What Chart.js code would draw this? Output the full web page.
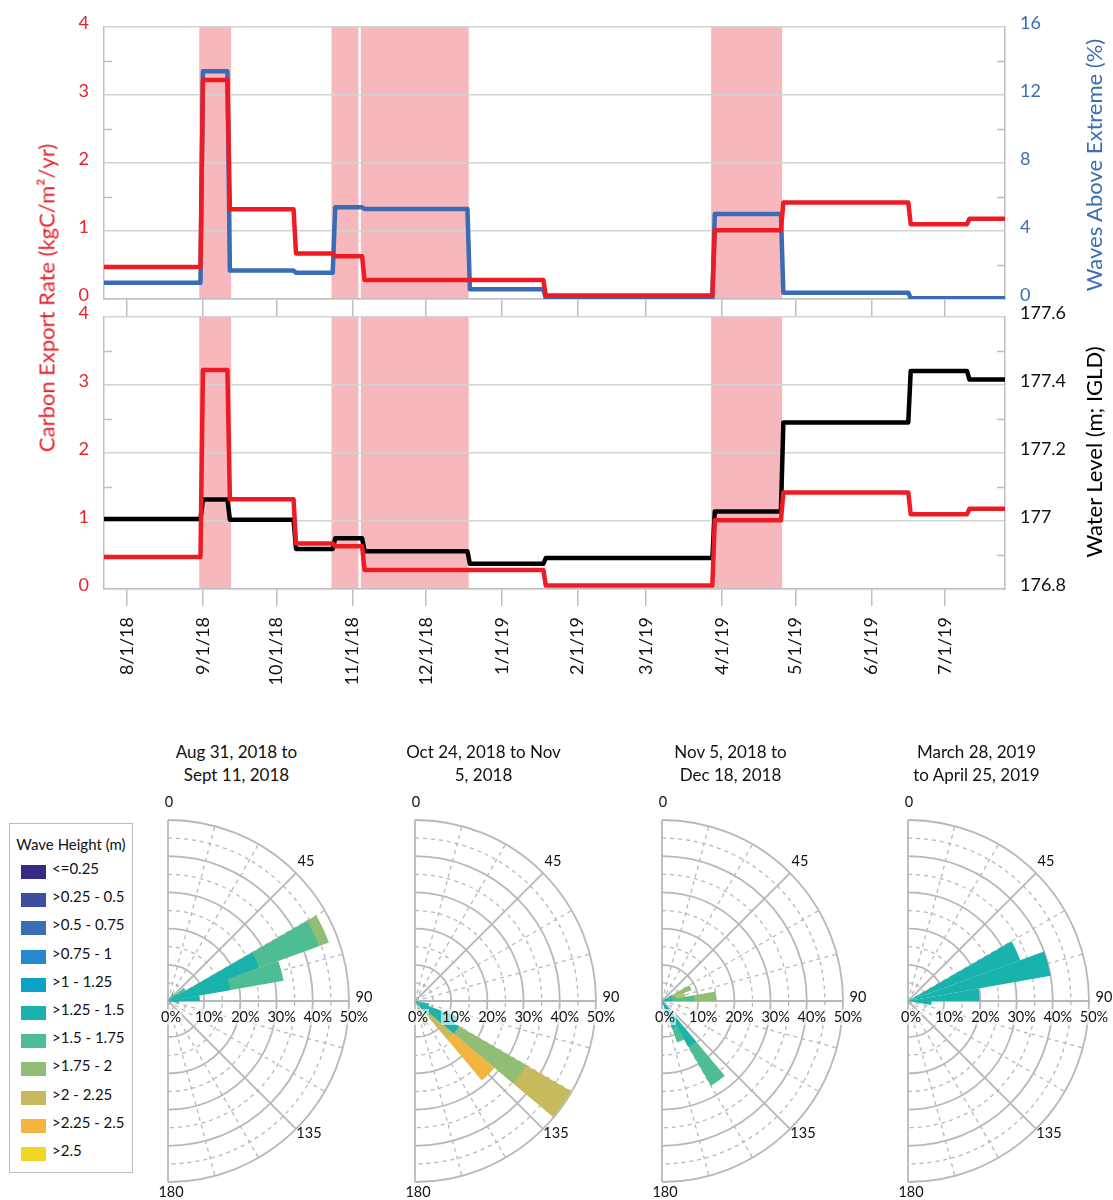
<!DOCTYPE html>
<html>
<head>
<meta charset="utf-8">
<title>Carbon export, waves and water level</title>
<script src="https://cdn.jsdelivr.net/npm/chart.js@4.4.1/dist/chart.umd.min.js"></script>
<style>
  html, body { margin: 0; padding: 0; background: #fff; }
  body { width: 1113px; height: 1200px; position: relative; overflow: hidden;
         font-family: Lato, 'Open Sans', sans-serif; color: #000; }
  canvas { position: absolute; }
  .vtitle { position: absolute; white-space: nowrap; font-size: 22px;
            transform: translate(-50%, -50%) rotate(-90deg); }
  .rose-title { position: absolute; width: 240px; text-align: center; font-size: 17px;
                line-height: 22.5px; color: #111; transform: translateX(-50%); }
  #legend { position: absolute; left: 9px; top: 823px; width: 124px; height: 350px;
            box-sizing: border-box; border: 1.5px solid #BDBDBD; background: #fff; }
  #legend .ttl { position: absolute; left: 0; width: 100%; top: 11px; text-align: center;
                 font-size: 15px; color: #111; }
  #legend .sw { position: absolute; left: 11px; width: 25px; height: 14px; }
  #legend .lb { position: absolute; left: 42px; font-size: 15px; color: #111; line-height: 18px; }
</style>
</head>
<body>
<div id="legend"><div class="ttl">Wave Height (m)</div></div>
<canvas id="topChart" width="1113" height="318" style="left:0;top:0"></canvas>
<canvas id="bottomChart" width="1113" height="420" style="left:0;top:300px"></canvas>
<div class="vtitle" style="left:46px;top:298px;color:#E8212A">Carbon Export Rate (kgC/m²/yr)</div>
<div class="vtitle" style="left:1093px;top:165px;color:#3D6DB5">Waves Above Extreme (%)</div>
<div class="vtitle" style="left:1093px;top:452px;color:#000">Water Level (m; IGLD)</div>
<div id="roses"></div>

<script>
// ---------- time series (step changes between sampling periods) ----------
// Day on which each step change happens
const changeDays = ['2018-08-31', '2018-09-11', '2018-10-08', '2018-10-24', '2018-11-05',
                    '2018-12-18', '2019-01-18', '2019-03-28', '2019-04-25', '2019-06-16', '2019-07-10'];
// Value held during each period (one more entry than changeDays)
const carbonExport      = [0.47, 3.22, 1.32, 0.67, 0.63, 0.28, 0.28, 0.05, 1.01, 1.42, 1.10, 1.18];
const wavesAboveExtreme = [0.95, 13.4, 1.67, 1.55, 5.39, 5.30, 0.57, 0.04, 5.00, 0.37, 0.04, 0.04];
const waterLevel        = [177.006, 177.063, 177.004, 176.918, 176.949, 176.911,
                           176.874, 176.891, 177.028, 177.290, 177.441, 177.416];
// High-wave periods (first and last day), shaded
const highWavePeriods = [['2018-08-31', '2018-09-12'], ['2018-10-24', '2018-11-03'],
                         ['2018-11-05', '2018-12-18'], ['2019-03-28', '2019-04-25']];
// Month ticks
const monthTickDates  = ['2018-08-01', '2018-09-01', '2018-10-01', '2018-11-01', '2018-12-01', '2019-01-01',
                         '2019-02-01', '2019-03-01', '2019-04-01', '2019-05-01', '2019-06-01', '2019-07-01'];
const monthTickLabels = ['8/1/18', '9/1/18', '10/1/18', '11/1/18', '12/1/18', '1/1/19',
                         '2/1/19', '3/1/19', '4/1/19', '5/1/19', '6/1/19', '7/1/19'];
const waterLevelTicks = [176.8, 177, 177.2, 177.4, 177.6];

// ---------- wave roses ----------
const waveClasses = ['<=0.25', '>0.25 - 0.5', '>0.5 - 0.75', '>0.75 - 1', '>1 - 1.25', '>1.25 - 1.5',
                     '>1.5 - 1.75', '>1.75 - 2', '>2 - 2.25', '>2.25 - 2.5', '>2.5'];
const classColors = ['#352A87', '#3D4EA2', '#3A6DB7', '#2688CF', '#0CA2C8', '#1AB2AD',
                     '#4EBD93', '#91BE74', '#C7BA5D', '#F4B540', '#F4D624'];
const directionBins = [0, 10, 20, 30, 40, 50, 60, 70, 80, 90, 100, 110, 120, 130, 140, 150, 160, 170];
const roseTitles = [['Aug 31, 2018 to', 'Sept 11, 2018'], ['Oct 24, 2018 to Nov', '5, 2018'],
                    ['Nov 5, 2018 to', 'Dec 18, 2018'], ['March 28, 2019', 'to April 25, 2019']];
// Percent of waves per direction bin (start angle) and height class
const roseAugSep = {
  30: [0, 0, 0, 0, 2.5, 0, 0, 0, 0, 0, 0],
  50: [0, 0, 0, 0, 0, 3.0, 2.7, 0, 0, 0, 0],
  60: [0, 0, 0, 0, 0, 26.8, 17.6, 2.9, 0, 0, 0],
  70: [0, 0, 0, 0, 0, 17.5, 14.9, 0, 0, 0, 0],
  80: [0, 0, 0, 0, 0, 8.8, 0, 0, 0, 0, 0],
  90: [0, 0, 0, 0, 0, 3.0, 0, 0, 0, 0, 0]
};
const roseOctNov = {
  100: [0, 0, 0, 0, 0, 4.0, 0, 0, 0, 0, 0],
  110: [0, 0, 0, 0, 0, 12.5, 0, 0, 0, 0, 0],
  120: [0, 0, 0, 0, 0, 14.0, 0, 21.5, 14.3, 0, 0],
  130: [0, 0, 0, 0, 0, 5.5, 0, 0, 8.3, 14.9, 0],
  150: [0, 0, 0, 0, 0, 0, 0, 7.3, 0, 0, 0]
};
const roseNovDec = {
  60:  [0, 0, 0, 0, 0, 3.0, 0, 5.7, 0, 0, 0],
  70:  [0, 0, 0, 0, 0, 2.0, 2.0, 0, 2.5, 0, 0],
  80:  [0, 0, 0, 0, 0, 3.0, 5.8, 6.2, 0, 0, 0],
  140: [0, 0, 0, 0, 3.0, 11.7, 12.3, 0, 0, 0, 0],
  150: [0, 0, 0, 0, 0, 8.0, 4.2, 0, 0, 0, 0]
};
const roseMarApr = {
  60: [0, 0, 0, 0, 0, 33.0, 0, 0, 0, 0, 0],
  70: [0, 0, 0, 0, 0, 40.0, 0, 0, 0, 0, 0],
  80: [0, 0, 0, 0, 0, 19.8, 0, 0, 0, 0, 0],
  90: [0, 0, 0, 0, 0, 6.5, 0, 0, 0, 0, 0]
};
const roseTables = [roseAugSep, roseOctNov, roseNovDec, roseMarApr];

// ---------- helpers ----------
const BASE = Date.UTC(2018, 7, 1);
function dayNum(s) {
  const [y, m, d] = s.split('-').map(Number);
  return (Date.UTC(y, m - 1, d) - BASE) / 86400000;
}
const X_MIN = dayNum('2018-07-22') + 0.6;
const X_MAX = dayNum('2019-07-25') + 0.5;

function stepPoints(values) {
  const pts = [{ x: X_MIN, y: values[0] }];
  changeDays.forEach((d, i) => {
    const n = dayNum(d);
    pts.push({ x: n, y: values[i] }, { x: n + 1, y: values[i + 1] });
  });
  pts.push({ x: X_MAX, y: values[values.length - 1] });
  return pts;
}

Chart.defaults.font.family = "Lato, 'Open Sans', sans-serif";
Chart.defaults.color = '#000';

const RED = '#ED1C24', BLUE = '#3A6BB5';
const GRID = '#D3D3D3', AXIS = '#BFBFBF';
const tickFont = { size: 18 };

const periodShading = {
  id: 'periodShading',
  beforeDraw(chart) {
    const { ctx, chartArea: a, scales: { x } } = chart;
    ctx.save();
    ctx.fillStyle = '#F6B8BC';
    highWavePeriods.forEach(([s, e]) => {
      const x0 = Math.max(a.left, x.getPixelForValue(dayNum(s) - 0.5));
      const x1 = Math.min(a.right, x.getPixelForValue(dayNum(e) + 0.5));
      ctx.fillRect(x0, a.top, x1 - x0, a.bottom - a.top);
    });
    ctx.restore();
  }
};

const minorTicks = {
  id: 'minorTicks',
  beforeDatasetsDraw(chart) {
    const { ctx, chartArea: a } = chart;
    ctx.save();
    ctx.strokeStyle = AXIS;
    ctx.lineWidth = 1.5;
    Object.values(chart.scales).forEach(s => {
      if (s.axis !== 'y') return;
      const step = s.options.ticks.stepSize;
      for (let k = 0; s.min + (k + 0.5) * step < s.max; k++) {
        const y = Math.round(s.getPixelForValue(s.min + (k + 0.5) * step)) + 0.5;
        const x0 = s.position === 'left' ? a.left : a.right - 8;
        ctx.beginPath();
        ctx.moveTo(x0, y);
        ctx.lineTo(x0 + 8, y);
        ctx.stroke();
      }
    });
    ctx.restore();
  }
};

function xAxis(showLabels, height) {
  return {
    type: 'linear', position: 'bottom', min: X_MIN, max: X_MAX, bounds: 'data',
    afterBuildTicks: s => { s.ticks = monthTickDates.map(d => ({ value: dayNum(d) })); },
    afterFit: s => { s.height = height; },
    grid: { drawOnChartArea: false, drawTicks: true, tickLength: 17, color: AXIS, lineWidth: 1.5 },
    border: { color: AXIS, width: 1.5 },
    ticks: {
      display: showLabels, autoSkip: false, maxRotation: 90, minRotation: 90, padding: 11,
      color: '#111', font: tickFont, callback: (v, i) => monthTickLabels[i]
    }
  };
}

// Label gap comes from an invisible tick mark, so the axis does not reserve extra room above/below
function yAxis(pos, min, max, step, color, width, opts = {}) {
  return Object.assign({
    position: pos, min, max,
    afterFit: s => { s.width = width; },
    ticks: { stepSize: step, color, font: tickFont, padding: 0, labelOffset: -4 },
    grid: pos === 'left'
      ? { color: GRID, lineWidth: 1.5, drawTicks: true, tickLength: 15, tickColor: 'rgba(0,0,0,0)' }
      : { drawOnChartArea: false, drawTicks: true, tickLength: 15, tickColor: 'rgba(0,0,0,0)' },
    border: { color: AXIS, width: 1.5 }
  }, opts);
}

const lineStyle = { pointRadius: 0, borderWidth: 4.5, tension: 0, borderJoinStyle: 'round', borderCapStyle: 'round' };
const commonOpts = {
  responsive: false, animation: false, events: [], devicePixelRatio: 1,
  plugins: { legend: { display: false }, tooltip: { enabled: false } }
};

new Chart(document.getElementById('topChart'), {
  type: 'line',
  data: {
    datasets: [
      Object.assign({ label: 'Carbon Export Rate', data: stepPoints(carbonExport), yAxisID: 'y', borderColor: RED }, lineStyle),
      Object.assign({ label: 'Waves Above Extreme', data: stepPoints(wavesAboveExtreme), yAxisID: 'y2', borderColor: BLUE }, lineStyle)
    ]
  },
  options: Object.assign({}, commonOpts, {
    layout: { padding: { top: 27, left: 0, right: 0, bottom: 0 } },
    scales: {
      x: xAxis(false, 19),
      y: yAxis('left', 0, 4, 1, '#E8212A', 104),
      y2: yAxis('right', 0, 16, 4, '#3D6DB5', 108)
    }
  }),
  plugins: [periodShading, minorTicks]
});

new Chart(document.getElementById('bottomChart'), {
  type: 'line',
  data: {
    datasets: [
      Object.assign({ label: 'Carbon Export Rate', data: stepPoints(carbonExport), yAxisID: 'y', borderColor: RED }, lineStyle),
      Object.assign({ label: 'Water Level', data: stepPoints(waterLevel), yAxisID: 'y2', borderColor: '#000' }, lineStyle)
    ]
  },
  options: Object.assign({}, commonOpts, {
    layout: { padding: { top: 17, left: 0, right: 0, bottom: 0 } },
    scales: {
      x: xAxis(true, 131),
      y: yAxis('left', 0, 4, 1, '#E8212A', 104),
      y2: yAxis('right', 176.8, 177.6, 0.2, '#111', 108)
    }
  }),
  plugins: [periodShading, minorTicks]
});
// water level tick labels without trailing zeros
Chart.getChart('bottomChart').options.scales.y2.ticks.callback = v => {
  const t = waterLevelTicks.find(w => Math.abs(w - v) < 1e-6);
  return t === undefined ? '' : String(t);
};
Chart.getChart('bottomChart').update();

// ---------- legend ----------
const legend = document.getElementById('legend');
waveClasses.forEach((name, i) => {
  const sw = document.createElement('div');
  sw.className = 'sw';
  sw.style.top = (41 + 28.2 * i) + 'px';
  sw.style.background = classColors[i];
  legend.appendChild(sw);
  const lb = document.createElement('div');
  lb.className = 'lb';
  lb.style.top = (35 + 28.2 * i) + 'px';
  lb.textContent = name;
  legend.appendChild(lb);
});

// ---------- wave roses ----------
const roseGrid = {
  id: 'roseGrid',
  beforeDatasetsDraw(chart) {
    const s = chart.scales.r, ctx = chart.ctx, cx = s.xCenter, cy = s.yCenter;
    const R = s.getDistanceFromCenterForValue(50);
    ctx.save();
    ctx.strokeStyle = '#B8B8B8';
    for (let v = 5; v <= 50; v += 5) {
      const major = v % 10 === 0;
      ctx.lineWidth = major ? 1.8 : 1.3;
      ctx.setLineDash(major ? [] : [4, 4]);
      ctx.beginPath();
      ctx.arc(cx, cy, s.getDistanceFromCenterForValue(v), -Math.PI / 2, Math.PI / 2);
      ctx.stroke();
    }
    for (let a = 0; a <= 180; a += 15) {
      const major = a % 45 === 0;
      ctx.lineWidth = major ? 1.8 : 1.3;
      ctx.setLineDash(major ? [] : [4, 4]);
      const t = (a - 90) * Math.PI / 180;
      ctx.beginPath();
      ctx.moveTo(cx, cy);
      ctx.lineTo(cx + R * Math.cos(t), cy + R * Math.sin(t));
      ctx.stroke();
    }
    ctx.restore();
  },
  afterDatasetsDraw(chart) {
    const s = chart.scales.r, ctx = chart.ctx, cx = s.xCenter, cy = s.yCenter;
    const R = s.getDistanceFromCenterForValue(50);
    ctx.save();
    ctx.font = "14.5px Lato, 'Open Sans', sans-serif";
    ctx.textAlign = 'center';
    ctx.textBaseline = 'middle';
    // direction labels
    const dirs = { 0: [1, -R - 18], 45: [R * 0.707 + 10, -R * 0.707 - 12], 90: [R + 15, -4],
                   135: [R * 0.707 + 13, R * 0.707 + 4], 180: [3, R + 10] };
    Object.keys(dirs).forEach(a => {
      ctx.fillStyle = '#111';
      ctx.fillText(String(a), cx + dirs[a][0], cy + dirs[a][1]);
    });
    // radial percentage labels with a light backdrop
    for (let v = 0; v <= 50; v += 10) {
      const txt = v + '%';
      const x = cx + s.getDistanceFromCenterForValue(v) + (v === 0 ? 3 : 5);
      const y = cy + 16;
      const w = ctx.measureText(txt).width;
      ctx.fillStyle = 'rgba(255,255,255,0.6)';
      ctx.fillRect(x - w / 2 - 1, y - 8, w + 2, 16);
      ctx.fillStyle = '#111';
      ctx.fillText(txt, x, y);
    }
    ctx.restore();
  }
};

const roseCentersX = [168, 415, 662, 908];
const ROSE_CY = 1001, HALF = 221;
const roses = document.getElementById('roses');
roseTables.forEach((table, k) => {
  const cx = roseCentersX[k];
  const title = document.createElement('div');
  title.className = 'rose-title';
  title.style.left = (cx + 68.5) + 'px';
  title.style.top = '741px';
  roseTitles[k].forEach((line, j) => {
    if (j) title.appendChild(document.createElement('br'));
    title.appendChild(document.createTextNode(line));
  });
  roses.appendChild(title);

  const cv = document.createElement('canvas');
  cv.width = 2 * HALF;
  cv.height = 2 * HALF;
  cv.style.left = (cx - HALF) + 'px';
  cv.style.top = (ROSE_CY - HALF) + 'px';
  roses.appendChild(cv);

  const datasets = waveClasses.map((name, c) => ({
    label: name,
    data: directionBins.map(b => {
      const row = table[b];
      if (!row || !row[c]) return 0;
      return row.slice(0, c + 1).reduce((acc, v) => acc + v, 0);
    }),
    backgroundColor: classColors[c],
    borderWidth: 0,
    angle: 10
  }));

  new Chart(cv, {
    type: 'polarArea',
    data: { labels: directionBins.map(String), datasets },
    options: Object.assign({}, commonOpts, {
      layout: { padding: 40 },
      scales: {
        r: {
          min: 0, max: 50, startAngle: 0,
          grid: { display: false }, angleLines: { display: false },
          ticks: { display: false }, pointLabels: { display: false }
        }
      }
    }),
    plugins: [roseGrid]
  });
});
</script>
</body>
</html>
